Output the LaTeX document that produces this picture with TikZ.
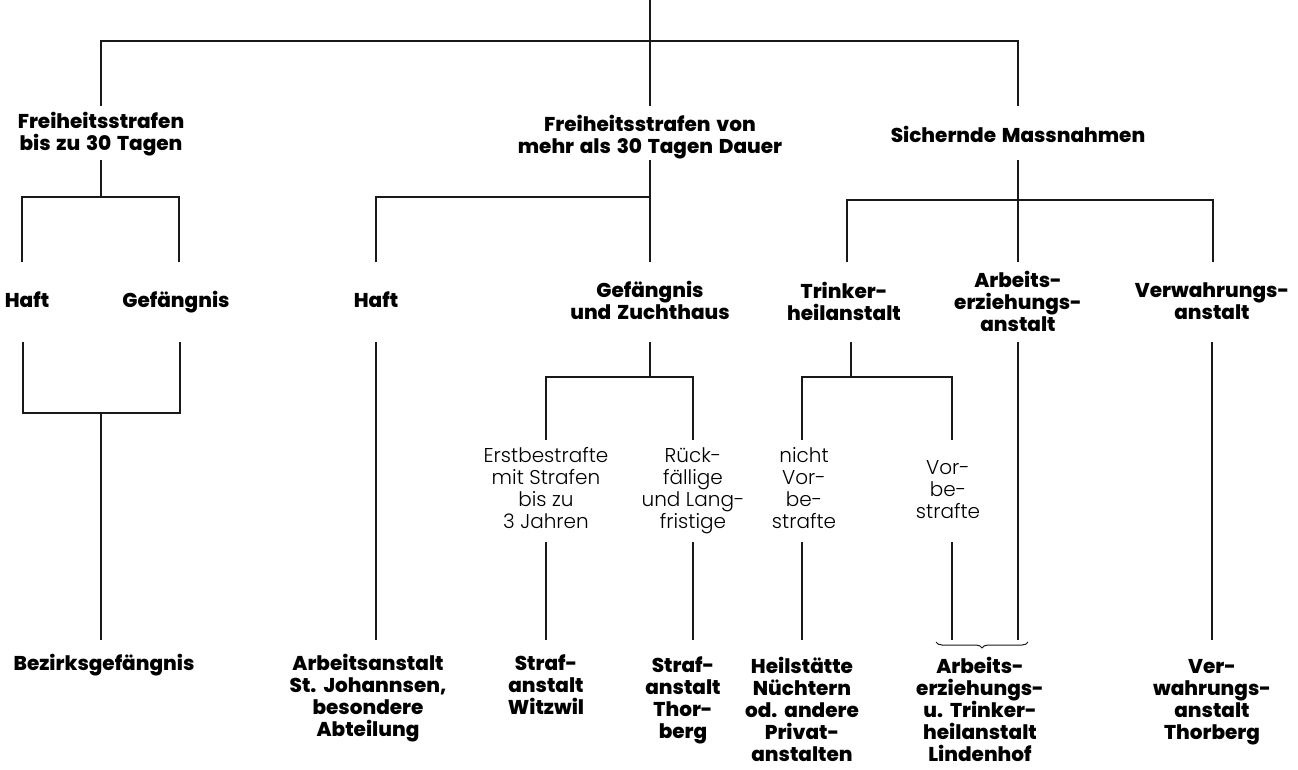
\documentclass[tikz,border=0pt]{standalone}
\usepackage{fontspec}
\setmainfont{Poppins}
\newfontfamily\heavyfont{Poppins ExtraBold}[WordSpace=1.5]
\newfontfamily\lightfont{Poppins Light}
\usetikzlibrary{decorations.pathreplacing}
\begin{document}
\begin{tikzpicture}[x=1pt,y=-1pt,
  lbl/.style={inner sep=0pt, align=center, execute at begin node=\strut, execute at end node=\strut},
  bl/.style={lbl, font=\heavyfont\fontsize{20}{22}\selectfont},
  lt/.style={lbl, font=\lightfont\fontsize{20}{22}\selectfont},
  conn/.style={line width=1.1pt, draw=black!90}]
\fill[white] (0,0) rectangle (1298,769);
\useasboundingbox (0,0) rectangle (1298,769);

% row coordinates
\coordinate (root) at (650,0);
\coordinate (j0) at (650,41);
\coordinate (r2t) at (0,106);
\coordinate (r2b) at (0,160);
\coordinate (r3t) at (0,262);
\coordinate (r3b) at (0,342);
\coordinate (r4t) at (0,440);
\coordinate (r4b) at (0,542);
\coordinate (r5t) at (0,640);

% nodes
\node[bl] (f1) at (101,134.6) {Freiheitsstrafen\\bis zu 30 Tagen};
\node[bl] (f2) at (650,137.6) {Freiheitsstrafen von\\mehr als 30 Tagen Dauer};
\node[bl] (f3) at (1018,137.6) {Sichernde Massnahmen};

\node[bl] (h1) at (27,302.6) {Haft};
\node[bl] (g1) at (176,302.6) {Gefängnis};
\node[bl] (h2) at (376,302.6) {Haft};
\node[bl] (gz) at (650,303.6) {Gefängnis\\und Zuchthaus};
\node[bl] (tr) at (844,304.6) {Trinker-\\heilanstalt};
\node[bl] (ae) at (1018,304.6) {Arbeits-\\erziehungs-\\anstalt};
\node[bl] (vw) at (1212,304.6) {Verwahrungs-\\anstalt};

\node[lt] (eb) at (546,491.6) {Erstbestrafte\\mit Strafen\\bis zu\\3 Jahren};
\node[lt] (rf) at (693,491.6) {Rück-\\fällige\\und Lang-\\fristige};
\node[lt] (nv) at (804,491.6) {nicht\\Vor-\\be-\\strafte};
\node[lt] (vb) at (948,492.6) {Vor-\\be-\\strafte};

\node[bl] (bz) at (104,665.6) {Bezirksgefängnis};
\node[bl] (as) at (368,698.6) {Arbeitsanstalt\\St. Johannsen,\\besondere\\Abteilung};
\node[bl] (sw) at (546,687.6) {Straf-\\anstalt\\Witzwil};
\node[bl] (st) at (683,700.6) {Straf-\\anstalt\\Thor-\\berg};
\node[bl] (hn) at (802,712.6) {Heilstätte\\Nüchtern\\od. andere\\Privat-\\anstalten};
\node[bl] (al) at (980,712.6) {Arbeits-\\erziehungs-\\u. Trinker-\\heilanstalt\\Lindenhof};
\node[bl] (vt) at (1212,702.6) {Ver-\\wahrungs-\\anstalt\\Thorberg};

% junctions and legs
\coordinate (j1) at (101,197);
\coordinate (j1b) at (101,413);
\coordinate (j2) at (650,197);
\coordinate (j3) at (650,377);
\coordinate (j4) at (1018,200);
\coordinate (j5t) at (851,342);
\coordinate (j5) at (851,377);
\coordinate (l1a) at (22,262);
\coordinate (l1b) at (179,262);
\coordinate (m1a) at (23,342);
\coordinate (m1b) at (180,342);
\coordinate (l4a) at (847,262);
\coordinate (l4b) at (1213,262);
\coordinate (l5a) at (802,440);
\coordinate (l5b) at (952,440);

% top level
\draw[conn] (root) -- (f2|-r2t);
\draw[conn] (f1|-r2t) |- (j0) -| (f3|-r2t);

% Freiheitsstrafen bis zu 30 Tagen
\draw[conn] (f1|-r2b) -- (j1);
\draw[conn] (l1a) |- (j1) -| (l1b);
\draw[conn] (m1a) |- (j1b) -| (m1b);
\draw[conn] (j1b) -- (j1b|-r5t);

% Freiheitsstrafen von mehr als 30 Tagen
\draw[conn] (f2|-r2b) -- (j2);
\draw[conn] (h2|-r3t) |- (j2) -- (gz|-r3t);
\draw[conn] (h2|-r3b) -- (h2|-r5t);
\draw[conn] (gz|-r3b) -- (j3);
\draw[conn] (eb|-r4t) |- (j3) -| (rf|-r4t);
\draw[conn] (eb|-r4b) -- (eb|-r5t);
\draw[conn] (rf|-r4b) -- (rf|-r5t);

% Sichernde Massnahmen
\draw[conn] (f3|-r2b) -- (ae|-r3t);
\draw[conn] (l4a) |- (j4) -| (l4b);
\draw[conn] (ae|-r3b) -- (ae|-r5t);
\draw[conn] (vw|-r3b) -- (vw|-r5t);
\draw[conn] (j5t) -- (j5);
\draw[conn] (l5a) |- (j5) -| (l5b);
\draw[conn] (l5a|-r4b) -- (l5a|-r5t);
\draw[conn] (l5b|-r4b) -- (l5b|-r5t);

% brace
\draw[conn, line width=1pt, decorate, decoration={brace, mirror, amplitude=6pt}] (936,642) -- (1028,642);
\end{tikzpicture}
\end{document}
